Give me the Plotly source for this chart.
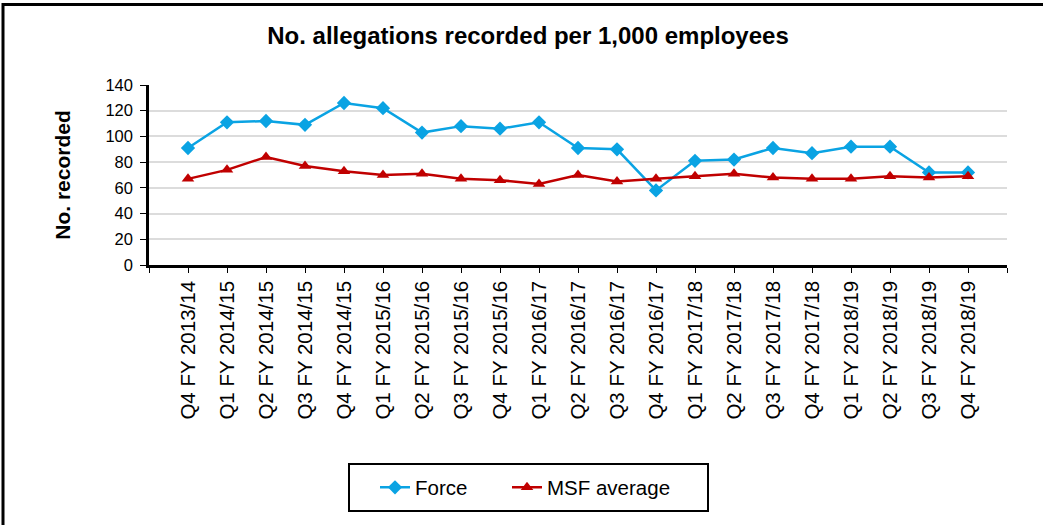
import plotly.graph_objects as go

categories = ["Q4 FY 2013/14", "Q1 FY 2014/15", "Q2 FY 2014/15", "Q3 FY 2014/15", "Q4 FY 2014/15",
              "Q1 FY 2015/16", "Q2 FY 2015/16", "Q3 FY 2015/16", "Q4 FY 2015/16", "Q1 FY 2016/17",
              "Q2 FY 2016/17", "Q3 FY 2016/17", "Q4 FY 2016/17", "Q1 FY 2017/18", "Q2 FY 2017/18",
              "Q3 FY 2017/18", "Q4 FY 2017/18", "Q1 FY 2018/19", "Q2 FY 2018/19", "Q3 FY 2018/19",
              "Q4 FY 2018/19"]
force = [91, 111, 112, 109, 126, 122, 103, 108, 106, 111, 91, 90, 58, 81, 82, 91, 87, 92, 92, 72, 72]
msf_average = [67, 74, 84, 77, 73, 70, 71, 67, 66, 63, 70, 65, 67, 69, 71, 68, 67, 67, 69, 68, 69]
y_ticks = [0, 20, 40, 60, 80, 100, 120, 140]

W, H = 1043, 525
L, R, T, B = 149, 36, 85, 260
pw, ph = W - L - R, H - T - B

def px2paper_x(px):
    return (px - L) / pw

def px2paper_y(py):
    return (H - B - py) / ph

idx = list(range(len(categories)))
tickvals = [-1] + idx + [len(categories)]
ticktext = [""] + categories + [""]

FONT = "Liberation Sans, Arial, sans-serif"
BLUE = "#0AA3E3"
RED = "#C00000"

fig = go.Figure()
fig.add_trace(go.Scatter(
    x=idx, y=force, name="Force", mode="lines+markers",
    line=dict(color=BLUE, width=2.5),
    marker=dict(symbol="diamond", size=11, color=BLUE),
    legend="legend",
))
fig.add_trace(go.Scatter(
    x=idx, y=msf_average, name="MSF average", mode="lines+markers",
    line=dict(color=RED, width=2.5),
    marker=dict(symbol="triangle-up", size=11, color=RED),
    legend="legend2",
))

legend_common = dict(orientation="h", xanchor="left", yanchor="middle",
                     y=px2paper_y(487.5), borderwidth=0, bgcolor="rgba(0,0,0,0)",
                     font=dict(size=20.5, family=FONT, color="black"))

fig.update_layout(
    width=W, height=H,
    margin=dict(l=L, r=R, t=T, b=B, pad=0),
    paper_bgcolor="white", plot_bgcolor="white",
    font=dict(family=FONT, color="black"),
    title=dict(text="<b>No. allegations recorded per 1,000 employees</b>",
               x=px2paper_x(528), xref="paper", xanchor="center",
               y=1 - 36 / H, yref="container", yanchor="middle",
               font=dict(size=24, family=FONT, color="black")),
    xaxis=dict(range=[-1, len(categories)], tickmode="array", tickvals=tickvals, ticktext=ticktext,
               tickangle=-90, showgrid=False, zeroline=False, showline=True, linecolor="black",
               linewidth=2.5, ticks="outside", ticklen=5, tickcolor="black", tickwidth=1,
               tickfont=dict(size=20.5, family=FONT, color="black")),
    yaxis=dict(range=[0, 140], tickvals=y_ticks, showgrid=True, gridcolor="#DCDCDC", gridwidth=2,
               zeroline=False, showline=True, linecolor="black", linewidth=2.5,
               ticks="outside", ticklen=6, tickcolor="black", tickwidth=1,
               ticklabelstandoff=4,
               tickfont=dict(size=16.5, family=FONT, color="black"),
               title=dict(text="<b>No. recorded</b>", font=dict(size=21, family=FONT, color="black"),
                          standoff=30)),
    showlegend=True,
    legend=dict(x=px2paper_x(375), **legend_common),
    legend2=dict(x=px2paper_x(507), **legend_common),
    shapes=[
        dict(type="rect", xref="paper", yref="paper",
             x0=px2paper_x(3), x1=px2paper_x(W + 10),
             y0=px2paper_y(H + 10), y1=px2paper_y(4.5),
             line=dict(color="black", width=3), fillcolor="rgba(0,0,0,0)", layer="below"),
        dict(type="rect", xref="paper", yref="paper",
             x0=px2paper_x(349), x1=px2paper_x(708),
             y0=px2paper_y(511), y1=px2paper_y(464),
             line=dict(color="black", width=2), fillcolor="rgba(0,0,0,0)", layer="below"),
    ],
)

fig.write_html("out.html", config={"displayModeBar": False},
               post_script="document.body.style.margin='0';document.body.style.padding='0';")
